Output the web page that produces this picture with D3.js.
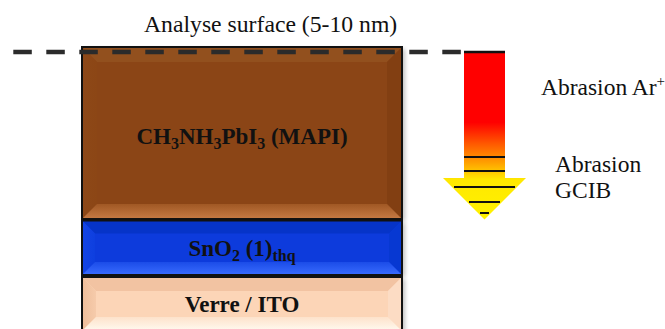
<!DOCTYPE html>
<html><head><meta charset="utf-8">
<script src="https://cdn.jsdelivr.net/npm/d3@7"></script>
<style>body{margin:0;background:#fff}svg{display:block}</style>
</head><body><svg id="c" width="665" height="329"></svg>
<script>
// ---- data ----
const layerNames = ["MAPI", "SnO2", "Verre / ITO"];
const layerThickness = [172, 54.5, 54];          // depth units
const layerLabels = [
  [["CH", ""], ["3", "sub"], ["NH", ""], ["3", "sub"], ["PbI", ""], ["3", "sub"], [" (MAPI)", ""]],
  [["SnO", ""], ["2", "sub"], [" (1)", ""], ["thq", "sub"]],
  [["Verre / ITO", ""]]
];
const abrasionLineDepths = [105, 119, 135, 150, 161];   // depth below surface
const titleText = "Analyse surface (5-10 nm)";
const arLabel = ["Abrasion Ar", "+"];
const gcibLabel = ["Abrasion", "GCIB"];

// ---- styles ----
const layerStyle = [
  {face: "#8b4513", top: "#92501e", left: "#8d4818", right: "#823f12", bottom: "#c67a44", b: 15},
  {face: "#0a3bdc", top: "#0634c8", left: "#1444e4", right: "#0738d2", bottom: "#3a6cff", b: 13},
  {face: "#fcd5b7", top: "#f2c3a2", left: "#eebd9a", right: "#fcdcc4", bottom: "#fffaf0", b: 14}
];
const gap = [1.5, 2];
const serif = "'Liberation Serif','Times New Roman',Times,serif";

const svg = d3.select("#c");
const defs = svg.append("defs");

const X0 = 82, X1 = 402, TOP = 47;
const depth = d3.scaleLinear().domain([0, 1]).range([TOP, TOP + 1]);

let cur = 0;
const bounds = layerThickness.map((t, i) => {
  const y0 = depth(cur), y1 = depth(cur + t);
  cur += t + (gap[i] || 0);
  return {y0, y1, i};
});

const flt = defs.append("filter").attr("id", "sh").attr("x", "-10%").attr("y", "-10%").attr("width", "130%").attr("height", "130%");
flt.append("feGaussianBlur").attr("in", "SourceAlpha").attr("stdDeviation", 2);
flt.append("feOffset").attr("dx", 3).attr("dy", 2).attr("result", "o");
flt.append("feComponentTransfer").append("feFuncA").attr("type", "linear").attr("slope", 0.25);
const mg = flt.append("feMerge"); mg.append("feMergeNode"); mg.append("feMergeNode").attr("in", "SourceGraphic");

const g = svg.append("g");
bounds.forEach(({y0, y1, i}) => {
  const s = layerStyle[i], b = s.b;
  const lg = g.append("g");
  lg.append("rect").attr("x", X0).attr("y", y0).attr("width", X1 - X0).attr("height", y1 - y0)
    .attr("fill", s.face).attr("filter", "url(#sh)");
  const polys = [
    {p: [[X0, y0], [X1, y0], [X1 - b, y0 + b], [X0 + b, y0 + b]], c: s.top},
    {p: [[X0, y0], [X0 + b, y0 + b], [X0 + b, y1 - b], [X0, y1]], c: s.left},
    {p: [[X1, y0], [X1 - b, y0 + b], [X1 - b, y1 - b], [X1, y1]], c: s.right},
    {p: [[X0, y1], [X1, y1], [X1 - b, y1 - b], [X0 + b, y1 - b]], c: s.bottom}
  ];
  const gid = "bg" + i, lid = "lg" + i;
  const gr = defs.append("linearGradient").attr("id", gid).attr("x1", 0).attr("y1", 0).attr("x2", 0).attr("y2", 1);
  gr.append("stop").attr("offset", 0).attr("stop-color", d3.interpolateRgb(s.face, s.bottom)(0.35));
  gr.append("stop").attr("offset", 1).attr("stop-color", s.bottom);
  const gl = defs.append("linearGradient").attr("id", lid).attr("x1", 0).attr("y1", 0).attr("x2", 1).attr("y2", 0);
  gl.append("stop").attr("offset", 0).attr("stop-color", s.left);
  gl.append("stop").attr("offset", 1).attr("stop-color", d3.interpolateRgb(s.left, s.face)(0.6));
  polys.forEach((q, k) => {
    lg.append("path").attr("d", "M" + q.p.map(d => d.join(",")).join("L") + "Z")
      .attr("fill", k === 3 ? `url(#${gid})` : k === 1 ? `url(#${lid})` : q.c);
  });
  lg.append("rect").attr("x", X0).attr("y", y0).attr("width", X1 - X0).attr("height", y1 - y0)
    .attr("fill", "none").attr("stroke", "#111").attr("stroke-width", 2);

  const t = lg.append("text").attr("x", (X0 + X1) / 2)
    .attr("y", i === 0 ? 143.5 : (y0 + y1) / 2 + 8)
    .attr("text-anchor", "middle")
    .attr("font-family", serif)
    .attr("font-weight", "bold").attr("font-size", 23).attr("fill", "#111");
  layerLabels[i].forEach(([txt, k], j) => {
    const prev = j > 0 ? layerLabels[i][j - 1][1] : "";
    let dy = 0;
    if (k === "sub" && prev !== "sub") dy = 5;
    else if (k !== "sub" && prev === "sub") dy = -5;
    const ts = t.append("tspan").text(txt).attr("dy", dy);
    if (k === "sub") ts.attr("font-size", 16);
  });
});

// dashed surface line
svg.append("line").attr("x1", 13.3).attr("x2", 462).attr("y1", 52).attr("y2", 52)
  .attr("stroke", "#2b2b2b").attr("stroke-width", 4.5).attr("stroke-dasharray", "18.5,14.5");

// title
svg.append("text").attr("x", 144).attr("y", 31.5)
  .attr("font-family", serif).attr("font-size", 23.7)
  .attr("fill", "#111").text(titleText);

// arrow
const AX0 = 464, AX1 = 505, AY0 = 52, AYH = 178, HX0 = 443, HX1 = 526, TIP = 219.5;
const ac = (HX0 + HX1) / 2;
const ag = defs.append("linearGradient").attr("id", "ag").attr("gradientUnits", "userSpaceOnUse")
  .attr("x1", 0).attr("y1", AY0).attr("x2", 0).attr("y2", TIP);
[[0, "#ff0000"], [0.42, "#ff0000"], [0.55, "#ff5a00"], [0.66, "#ffa000"], [0.76, "#ffe800"], [1, "#fff200"]]
  .forEach(([o, c]) => ag.append("stop").attr("offset", o).attr("stop-color", c));
svg.append("path")
  .attr("d", `M${AX0},${AY0}L${AX1},${AY0}L${AX1},${AYH}L${HX1},${AYH}L${ac},${TIP}L${HX0},${AYH}L${AX0},${AYH}Z`)
  .attr("fill", "url(#ag)");
svg.append("line").attr("x1", AX0).attr("x2", AX1).attr("y1", AY0).attr("y2", AY0)
  .attr("stroke", "#111").attr("stroke-width", 2.5);
const halfW = y => y <= AYH ? (AX1 - AX0) / 2 : (HX1 - HX0) / 2 * (TIP - y) / (TIP - AYH);
abrasionLineDepths.forEach(d => {
  const y = AY0 + d, hw = halfW(y) - (y > AYH ? 2 : 0);
  svg.append("line").attr("x1", ac - hw).attr("x2", ac + hw).attr("y1", y).attr("y2", y)
    .attr("stroke", "#111").attr("stroke-width", 2);
});

// labels
const ar = svg.append("text").attr("x", 541).attr("y", 95).attr("font-family", serif)
  .attr("font-size", 23.5).attr("fill", "#111");
ar.append("tspan").text(arLabel[0]);
ar.append("tspan").text(arLabel[1]).attr("font-size", 15).attr("dy", -9);
svg.append("text").attr("x", 555).attr("y", 172).attr("font-family", serif)
  .attr("font-size", 23.5).attr("fill", "#111").text(gcibLabel[0]);
svg.append("text").attr("x", 555).attr("y", 198).attr("font-family", serif)
  .attr("font-size", 23.5).attr("fill", "#111").text(gcibLabel[1]);
</script></body></html>
